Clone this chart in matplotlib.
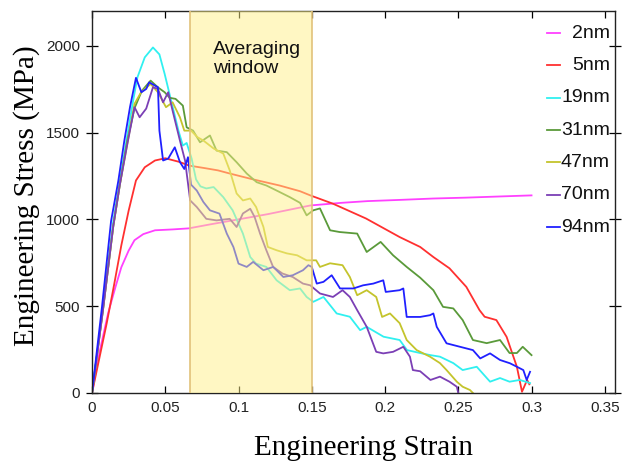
import matplotlib
matplotlib.use('Agg')
import matplotlib.pyplot as plt

## data: engineering strain / stress (MPa) per grain size
strain_2nm = [0, 0.005, 0.011, 0.016, 0.020, 0.025, 0.029, 0.035, 0.043, 0.055, 0.066,
              0.08, 0.1, 0.12, 0.149, 0.17, 0.188, 0.21, 0.233, 0.255, 0.279, 0.3]
stress_2nm = [0, 230, 460, 610, 724, 820, 880, 915, 937, 942, 948,
              970, 1000, 1030, 1080, 1095, 1105, 1112, 1120, 1125, 1132, 1138]

strain_5nm = [0, 0.005, 0.010, 0.015, 0.020, 0.025, 0.030, 0.036, 0.043, 0.050, 0.060,
              0.066, 0.077, 0.086, 0.094, 0.11, 0.128, 0.142, 0.149, 0.1645, 0.187,
              0.210, 0.224, 0.233, 0.244, 0.2555, 0.2645, 0.268, 0.276, 0.283, 0.290,
              0.2935, 0.297, 0.2985]
stress_5nm = [0, 200, 400, 620, 850, 1050, 1224, 1300, 1339, 1352, 1330,
              1310, 1295, 1282, 1264, 1230, 1195, 1162, 1138, 1090, 1005,
              898, 841, 783, 718, 611, 477, 439, 420, 323, 151,
              7, 75, 50]

strain_19nm = [0, 0.0075, 0.0145, 0.019, 0.024, 0.028, 0.031, 0.036, 0.0416, 0.046,
               0.0496, 0.054, 0.059, 0.062, 0.0646, 0.068, 0.071, 0.074, 0.078, 0.083,
               0.0896, 0.096, 0.103, 0.108, 0.112, 0.119, 0.126, 0.135, 0.142, 0.1465,
               0.151, 0.158, 0.167, 0.176, 0.183, 0.1875, 0.199, 0.210, 0.215, 0.224,
               0.231, 0.2375, 0.2466, 0.253, 0.2626, 0.2717, 0.2785, 0.285, 0.292, 0.299]
stress_19nm = [0, 496, 990, 1224, 1480, 1680, 1818, 1933, 1990, 1950,
               1837, 1684, 1511, 1425, 1440, 1350, 1230, 1190, 1178, 1186,
               1128, 1052, 918, 783, 745, 726, 649, 592, 602, 553,
               525, 553, 458, 439, 362, 381, 324, 305, 247, 230,
               218, 209, 172, 132, 151, 65, 86, 65, 75, 57]

strain_31nm = [0, 0.0075, 0.0145, 0.019, 0.024, 0.029, 0.034, 0.040, 0.045, 0.0496,
               0.053, 0.057, 0.062, 0.0646, 0.069, 0.0737, 0.0805, 0.085, 0.092, 0.0987,
               0.1056, 0.1124, 0.119, 0.126, 0.135, 0.142, 0.1465, 0.151, 0.1556, 0.1625,
               0.169, 0.181, 0.1875, 0.197, 0.2055, 0.2148, 0.224, 0.233, 0.2396, 0.2466,
               0.253, 0.260, 0.2694, 0.2785, 0.285, 0.29, 0.294, 0.300]
stress_31nm = [0, 480, 960, 1200, 1450, 1640, 1740, 1799, 1760, 1732,
               1700, 1694, 1655, 1530, 1511, 1444, 1483, 1396, 1387, 1329,
               1264, 1214, 1195, 1166, 1128, 1095, 1023, 1052, 1063, 937,
               927, 918, 812, 870, 793, 726, 664, 592, 496, 487,
               420, 305, 287, 305, 230, 230, 266, 218]

strain_47nm = [0, 0.0075, 0.0145, 0.019, 0.024, 0.029, 0.0335, 0.040, 0.045, 0.0505,
               0.055, 0.060, 0.063, 0.0676, 0.072, 0.076, 0.083, 0.0896, 0.094, 0.0987,
               0.103, 0.108, 0.112, 0.117, 0.120, 0.126, 0.133, 0.140, 0.1465, 0.153,
               0.1556, 0.1625, 0.171, 0.176, 0.181, 0.1875, 0.194, 0.198, 0.2034, 0.210,
               0.2148, 0.2216, 0.2307, 0.2375, 0.242, 0.249, 0.253, 0.258, 0.260]
stress_47nm = [0, 480, 960, 1200, 1430, 1665, 1732, 1780, 1732, 1646,
               1674, 1588, 1511, 1511, 1473, 1454, 1408, 1379, 1282, 1149,
               1109, 1120, 1071, 956, 841, 822, 804, 793, 764, 764,
               726, 747, 736, 668, 563, 592, 553, 438, 458, 402,
               305, 247, 209, 172, 132, 65, 36, 17, 0]

strain_70nm = [0, 0.0075, 0.0145, 0.019, 0.024, 0.029, 0.0325, 0.037, 0.0416, 0.045,
               0.0485, 0.052, 0.055, 0.060, 0.0635, 0.067, 0.0715, 0.078, 0.085, 0.094,
               0.0987, 0.103, 0.108, 0.111, 0.1147, 0.119, 0.1236, 0.130, 0.137, 0.144,
               0.149, 0.1556, 0.1645, 0.171, 0.176, 0.181, 0.1875, 0.194, 0.1988, 0.2055,
               0.2125, 0.217, 0.219, 0.224, 0.231, 0.2375, 0.244, 0.249, 0.250]
stress_70nm = [0, 480, 960, 1200, 1430, 1646, 1588, 1638, 1761, 1751,
               1674, 1732, 1626, 1454, 1339, 1109, 1071, 1003, 994, 1003,
               956, 1034, 1061, 1013, 918, 822, 726, 688, 668, 630,
               620, 573, 553, 592, 553, 477, 381, 237, 228, 237,
               266, 209, 132, 125, 75, 94, 65, 36, 0]

strain_94nm = [0, 0.0068, 0.013, 0.018, 0.022, 0.026, 0.030, 0.0337, 0.037, 0.039,
               0.043, 0.045, 0.046, 0.0485, 0.052, 0.0565, 0.060, 0.063, 0.0655, 0.0676,
               0.0715, 0.076, 0.0805, 0.087, 0.092, 0.0965, 0.100, 0.1056, 0.110, 0.117,
               0.1237, 0.1306, 0.137, 0.144, 0.1477, 0.150, 0.1534, 0.158, 0.1636, 0.1693,
               0.1784, 0.185, 0.192, 0.1988, 0.2005, 0.210, 0.2125, 0.2148, 0.224, 0.2307,
               0.233, 0.2353, 0.242, 0.2512, 0.260, 0.265, 0.2717, 0.2785, 0.2853, 0.29,
               0.2944, 0.2967, 0.299]
stress_94nm = [0, 496, 990, 1224, 1450, 1650, 1815, 1732, 1751, 1789,
               1770, 1761, 1511, 1339, 1350, 1415, 1330, 1290, 1358, 1200,
               1166, 1100, 1052, 1033, 918, 841, 745, 726, 755, 707,
               726, 668, 678, 707, 736, 726, 630, 640, 678, 602,
               602, 620, 630, 649, 582, 592, 602, 438, 438, 448,
               458, 381, 286, 266, 247, 199, 228, 190, 171, 151,
               132, 75, 122]

labels = ['2nm', '5nm', '19nm', '31nm', '47nm', '70nm', '94nm']
colors = ['#ff40ff', '#ff3030', '#30f0f0', '#5a9a3a', '#c4c42c', '#7b3fb5', '#2020ff']
strains = [strain_2nm, strain_5nm, strain_19nm, strain_31nm, strain_47nm, strain_70nm, strain_94nm]
stresses = [stress_2nm, stress_5nm, stress_19nm, stress_31nm, stress_47nm, stress_70nm, stress_94nm]

window = (0.067, 0.150)

sans = ['Liberation Sans', 'DejaVu Sans']
serif = ['Liberation Serif', 'DejaVu Serif']

fig = plt.figure(figsize=(6.23, 4.66), dpi=100)
ax = fig.add_axes([0.1477, 0.1567, 0.8395, 0.8197])

for x, y, c in zip(strains, stresses, colors):
    ax.plot(x, y, color=c, lw=1.3, zorder=2)

## averaging window drawn over the curves, semi transparent
ax.axvspan(*window, facecolor='#fff089', alpha=0.5, edgecolor='none', zorder=3)
for xv in window:
    ax.axvline(xv, color='#e2c27a', lw=1.2, zorder=3)
ax.text(0.0827, 2030, 'Averaging\nwindow', family=sans, fontsize=14,
        color='#111111', va='top', ha='left', zorder=4)

ax.set_xlim(0, 0.357)
ax.set_ylim(0, 2200)
ax.set_xticks([0, 0.05, 0.1, 0.15, 0.2, 0.25, 0.3, 0.35])
ax.set_xticklabels(['0', '0.05', '0.1', '0.15', '0.2', '0.25', '0.3', '0.35'])
ax.set_yticks([0, 500, 1000, 1500, 2000])
ax.tick_params(axis='x', direction='in', length=5, width=0.9, top=True, pad=6,
               labelsize=11, labelcolor='#222222')
ax.tick_params(axis='y', direction='inout', length=9, width=0.9, right=True, pad=4,
               labelsize=11, labelcolor='#222222')
for lab in ax.get_xticklabels() + ax.get_yticklabels():
    lab.set_family(sans)
for sp in ax.spines.values():
    sp.set_linewidth(1.0)
    sp.set_color('#222222')

## manual legend: short handle, right aligned text
for i, (lab, c) in enumerate(zip(labels, colors)):
    yy = 0.942 - i * 0.0846
    ax.plot([0.869, 0.895], [yy, yy], color=c, lw=1.3, transform=ax.transAxes,
            clip_on=False, zorder=5)
    ax.text(0.990, yy, lab, family=sans, fontsize=14, color='#111111',
            ha='right', va='center', transform=ax.transAxes, zorder=5)

fig.text(0.584, 0.038, 'Engineering Strain', family=serif, fontsize=21,
         ha='center', va='center')
fig.text(0.043, 0.58, 'Engineering Stress (MPa)', family=serif, fontsize=21,
         ha='center', va='center', rotation=90)

fig.savefig('out.png', dpi=100)
